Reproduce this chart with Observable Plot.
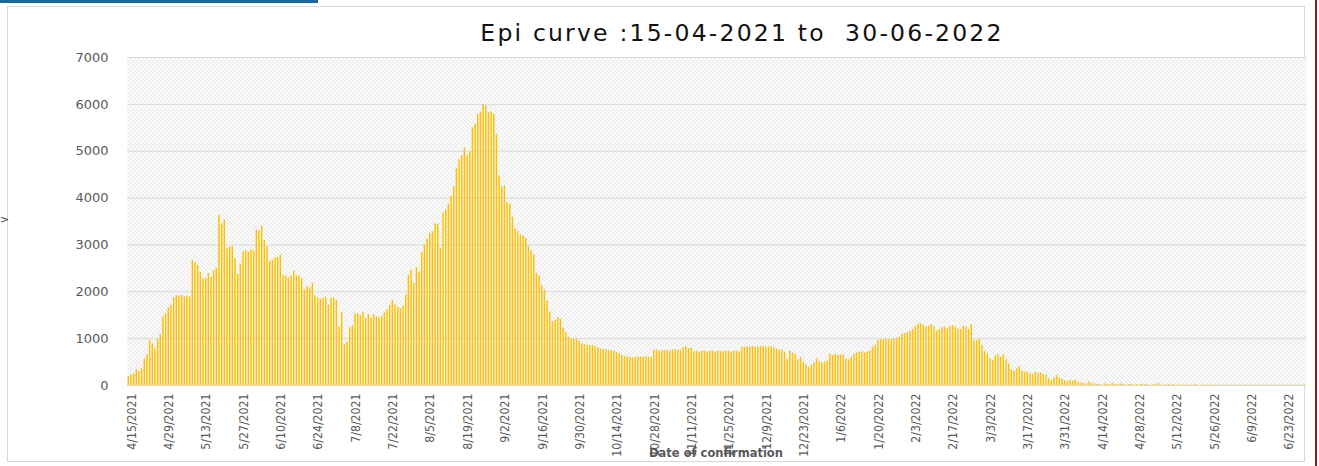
<!DOCTYPE html>
<html><head><meta charset="utf-8">
<script src="https://cdn.jsdelivr.net/npm/d3@7"></script>
<script src="https://cdn.jsdelivr.net/npm/@observablehq/plot@0.6"></script>
<style>
html,body{margin:0;padding:0;background:#fff;}
#wrap{position:relative;width:1319px;height:466px;overflow:hidden;background:#fff;}
#chart{position:absolute;left:0;top:0;}
#blue{position:absolute;left:0;top:0;width:318px;height:3px;background:#1f6696;}
#border{position:absolute;left:7px;top:6px;width:1298px;height:456px;border:1px solid #d9d9d9;box-sizing:border-box;}
#red{position:absolute;left:1315px;top:0;width:2px;height:466px;background:#8b1a1a;}
#title{position:absolute;left:742px;top:19px;transform:translateX(-50%);font-family:"DejaVu Sans",sans-serif;font-size:23.5px;letter-spacing:2.2px;color:#111;white-space:pre;}
#xlabel{position:absolute;left:716px;top:446px;transform:translateX(-50%);font-family:"DejaVu Sans",sans-serif;font-weight:bold;font-size:11.5px;color:#595959;white-space:pre;}
#chev{position:absolute;left:0px;top:213px;font-family:"DejaVu Sans",sans-serif;font-size:11px;color:#444;}
</style></head><body>
<div id="wrap">
  <div id="border"></div>
  <div id="chart"></div>
  <div id="blue"></div>
  <div id="red"></div>
  <div id="title"></div>
  <div id="xlabel"></div>
  <div id="chev">&gt;</div>
</div>
<script>
const titleText = "Epi curve :15-04-2021 to  30-06-2022";
const xTitle = "Date of confirmation";
const startDate = "2021-04-15";
const tickLabels = ["4/15/2021","4/29/2021","5/13/2021","5/27/2021","6/10/2021","6/24/2021","7/8/2021","7/22/2021","8/5/2021","8/19/2021","9/2/2021","9/16/2021","9/30/2021","10/14/2021","10/28/2021","11/11/2021","11/25/2021","12/9/2021","12/23/2021","1/6/2022","1/20/2022","2/3/2022","2/17/2022","3/3/2022","3/17/2022","3/31/2022","4/14/2022","4/28/2022","5/12/2022","5/26/2022","6/9/2022","6/23/2022"];
const yTicks = [0,1000,2000,3000,4000,5000,6000,7000];
const cases = [
190,230,250,340,300,355,570,660,960,890,
780,975,1090,1460,1530,1660,1710,1870,1920,1910,
1920,1890,1910,1890,2670,2630,2560,2420,2280,2280,
2385,2310,2455,2510,3630,3450,3540,2920,2955,2970,
2705,2370,2585,2850,2880,2850,2900,2870,3310,3300,
3400,3100,2970,2650,2685,2730,2730,2780,2350,2335,
2290,2330,2440,2350,2335,2280,2030,2115,2085,2185,
1920,1865,1840,1865,1890,1710,1865,1865,1815,1250,
1565,870,925,1230,1270,1530,1530,1495,1565,1425,
1515,1440,1515,1460,1440,1475,1545,1615,1710,1815,
1720,1670,
1640,1700,1930,2355,2465,2180,2520,2415,2835,3000,
3120,3250,3285,3450,3440,2930,3680,3750,3875,4035,
4235,4620,4820,4905,5070,4905,4975,5500,5570,5785,
5835,5985,5960,5820,5840,5785,5355,4475,4235,4260,
3905,3870,3590,3340,3285,3215,3200,3140,2965,2880,
2785,2390,2340,2140,2035,1800,1570,1355,1390,1450,
1415,1230,1130,1035,1000,985,985,950,890,880,
855,855,855,835,800,
780,770,760,750,745,730,715,680,640,620,
610,600,590,605,610,600,610,615,605,600,
750,760,740,735,745,750,735,760,765,750,
745,810,830,790,800,720,735,715,730,735,
720,735,730,715,735,730,720,735,730,715,
735,730,720,820,815,825,820,830,825,815,
830,835,820,830,825,800,780,760,750,714,
557,735,690,664,550,593,500,450,393,428,
478,571,500,486,500,520,664,643,664,643,
650,660,557,550,600,664,693,714,
714,690,714,735,820,857,964,978,978,978,
978,978,1000,1000,1035,1092,1107,1128,1157,1192,
1264,1307,1321,1285,1250,1264,1307,1250,1164,1192,
1235,1250,1207,1264,1278,1250,1207,1192,1264,1250,
1192,1300,964,964,985,857,735,678,571,535,
628,657,607,664,550,464,335,307,357,407,
307,285,285,250,235,285,264,271,235,214,
143,107,164,214,157,143,107,86,107,93,
107,71,57,50,36,71,50,36,21,21,
14,36,21,21,50,21,21,36,21,
14,21,29,14,21,14,29,14,21,7,
14,21,36,14,7,14,21,7,14,7,
14,14,7,7,14,7,21,7,7,14,
7,7,7,14,7,7,7,7,14,7,
7,7,7,7,7,14,7,7,7,7,
7,7,7,7,7,7,14,7,7,7,
7,7,7,7,7,7,7,7
];

document.getElementById("title").textContent = titleText;
document.getElementById("xlabel").textContent = xTitle;

const parse = d3.utcParse("%Y-%m-%d");
const fmt = d3.utcFormat("%-m/%-d/%Y");
const start = parse(startDate);
const data = cases.map((v, i) => ({date: fmt(d3.utcDay.offset(start, i)), value: v}));

const chart = Plot.plot({
  width: 1319, height: 466,
  marginLeft: 127, marginRight: 13, marginTop: 57, marginBottom: 81,
  style: {background: "transparent", overflow: "visible"},
  x: {type: "band", domain: data.map(d => d.date), paddingInner: 0.45, paddingOuter: 0.2},
  y: {domain: [0, 7000]},
  marks: [
    Plot.frame({fill: "#eeeeee"}),
    Plot.gridY(yTicks, {stroke: "#d9d9d9", strokeOpacity: 1, strokeWidth: 1}),
    Plot.barY(data, {x: "date", y: "value", fill: "#FFC000"}),
    Plot.axisY({ticks: yTicks, tickFormat: d3.format("d"), tickSize: 0, tickPadding: 19, label: null, color: "#595959",
      fontFamily: "DejaVu Sans", fontSize: 13, style: {letterSpacing: "1.8px"}}),
    Plot.axisX({ticks: tickLabels, tickRotate: -90, tickSize: 0, tickPadding: 8, label: null,
      color: "#595959", fontFamily: "DejaVu Sans Condensed, Liberation Sans Narrow, sans-serif", fontSize: 12.2, dx: 3})
  ]
});
const ns = "http://www.w3.org/2000/svg";
const defs = document.createElementNS(ns, "defs");
defs.innerHTML = '<pattern id="hatch" width="4" height="4" patternUnits="userSpaceOnUse"><rect width="4" height="4" fill="#ffffff"/><path d="M-1,-1L5,5M3,-1L5,1M-1,3L1,5" stroke="#d0d0d0" stroke-width="0.9"/></pattern>';
chart.insertBefore(defs, chart.firstChild);
let f = chart.querySelector('[aria-label="frame"]');
if (f && f.tagName.toLowerCase() !== "rect") f = f.querySelector("rect");
if (f) f.setAttribute("fill", "url(#hatch)");
document.getElementById("chart").appendChild(chart);
</script>
</body></html>
